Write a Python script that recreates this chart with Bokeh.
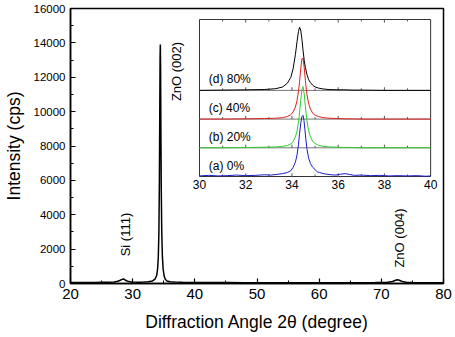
import numpy as np
from bokeh.plotting import figure
from bokeh.models import Range1d, FixedTicker, ColumnDataSource
from bokeh.core.properties import value
from bokeh.embed import file_html
from bokeh.resources import INLINE

FONT = "Liberation Sans"

# ---------------- main XRD pattern ----------------
main_x = [20, 21, 22, 23, 24, 25, 26, 27, 27.6, 28.0, 28.3, 28.5, 28.7, 29.0, 29.4, 29.8,
          30.5, 31.5, 32.5, 33.2, 33.6, 33.85, 34.0, 34.12, 34.22, 34.3, 34.36, 34.41, 34.45,
          34.49, 34.54, 34.6, 34.68, 34.78, 34.9, 35.05, 35.25, 35.5, 36, 37, 38, 40, 42, 45,
          48, 50, 53, 56, 60, 63, 66, 69, 71, 71.8, 72.3, 72.6, 72.9, 73.4, 74, 75, 77, 80]
main_y = [60, 55, 60, 65, 60, 70, 75, 90, 130, 190, 240, 260, 230, 160, 110, 90,
          80, 80, 100, 150, 260, 450, 800, 1500, 3000, 6000, 10000, 13200, 13900,
          12600, 9000, 5500, 3000, 1600, 850, 450, 250, 150, 100, 80, 70, 60, 55, 55,
          50, 50, 50, 45, 45, 45, 50, 55, 70, 120, 190, 220, 190, 110, 70, 55, 50, 45]

x_major = [20, 30, 40, 50, 60, 70, 80]
x_minor = [25, 35, 45, 55, 65, 75]
y_major = [0, 2000, 4000, 6000, 8000, 10000, 12000, 14000, 16000]
y_minor = [1000, 3000, 5000, 7000, 9000, 11000, 13000, 15000]

ann_text = ["Si (111)", "ZnO (002)", "ZnO (004)"]
ann_x = [28.86, 37.07, 72.98]
ann_y = [2850, 12335, 2650]

# ---------------- inset (normalised intensity, offset stacked) ----------------
inset_x = [30, 31, 32, 32.8, 33.3, 33.6, 33.8, 33.95, 34.05, 34.15, 34.22, 34.28, 34.33,
           34.38, 34.43, 34.48, 34.53, 34.58, 34.65, 34.72, 34.8, 34.9, 35.0, 35.15, 35.35,
           35.6, 36.0, 36.3, 36.6, 37, 38, 39, 40]
d80_y = [0.0, 0.01, 0.02, 0.03, 0.06, 0.12, 0.25, 0.45, 0.75, 1.25, 1.7, 2.05, 2.2,
         2.1, 1.8, 1.4, 1.05, 0.8, 0.55, 0.38, 0.27, 0.18, 0.12, 0.08, 0.05,
         0.03, 0.02, 0.02, 0.01, 0.01, 0.0, 0.0, 0.0]
c40_y = [0.0, 0.0, 0.01, 0.02, 0.03, 0.05, 0.09, 0.15, 0.25, 0.42, 0.65, 0.95, 1.3,
         1.75, 2.1, 2.12, 1.8, 1.35, 0.85, 0.55, 0.35, 0.2, 0.14, 0.09, 0.05,
         0.03, 0.02, 0.01, 0.01, 0.0, 0.0, 0.0, 0.0]
b20_y = [0.0, 0.0, 0.01, 0.02, 0.03, 0.05, 0.08, 0.13, 0.22, 0.38, 0.58, 0.88, 1.22,
         1.65, 2.02, 2.13, 1.88, 1.45, 0.92, 0.6, 0.38, 0.22, 0.15, 0.09, 0.05,
         0.03, 0.02, 0.01, 0.01, 0.0, 0.0, 0.0, 0.0]
a0_x = [30, 30.4, 30.8, 31.2, 31.6, 32, 32.4, 32.8, 33.1, 33.4, 33.6, 33.8, 33.95,
        34.05, 34.15, 34.22, 34.28, 34.33, 34.38, 34.43, 34.48, 34.52, 34.56, 34.6,
        34.65, 34.72, 34.8, 34.9, 35.0, 35.1, 35.2, 35.35, 35.5, 35.7, 35.9, 36.1,
        36.3, 36.5, 36.7, 37.0, 37.4, 37.8, 38.2, 38.6, 39.0, 39.4, 39.8, 40]
a0_y = [0.02, 0.04, 0.02, 0.03, 0.05, 0.03, 0.04, 0.06, 0.05, 0.08, 0.1, 0.14, 0.2,
        0.32, 0.5, 0.75, 1.1, 1.5, 1.85, 2.08, 2.13, 1.95, 1.65, 1.3,
        0.95, 0.65, 0.45, 0.32, 0.24, 0.16, 0.14, 0.1, 0.08, 0.06, 0.05, 0.08,
        0.1, 0.07, 0.04, 0.05, 0.03, 0.04, 0.02, 0.03, 0.02, 0.03, 0.01, 0.02]

series_labels = ["(a) 0%", "(b) 20%", "(c) 40%", "(d) 80%"]
series_offsets = [0, 1, 2, 3]
series_colors = ["#1c1cc8", "#2ecc2e", "#e02020", "#000000"]

inset_ticks = [30, 32, 34, 36, 38, 40]
inset_minor = [31, 33, 35, 37, 39]
inset_xr = (30, 40)
inset_yr = (0, 5.47)

# ---------------- figure ----------------
p = figure(width=455, height=337, output_backend="svg", toolbar_location=None,
           x_range=Range1d(20, 80), y_range=Range1d(0, 16000),
           min_border_left=66, min_border_right=12, min_border_top=8, min_border_bottom=54)
p.grid.visible = False
p.outline_line_color = "black"
p.outline_line_width = 1.5
p.background_fill_color = "white"
p.border_fill_color = "white"

for ax in (p.xaxis[0], p.yaxis[0]):
    ax.major_tick_in = 5
    ax.major_tick_out = 0
    ax.minor_tick_in = 3
    ax.minor_tick_out = 0
    ax.axis_line_width = 1.5
    ax.major_tick_line_width = 1.2
    ax.major_label_text_font = FONT
    ax.axis_label_text_font = FONT
    ax.axis_label_text_font_style = "normal"
    ax.axis_label_text_font_size = "17.5px"
    ax.major_label_text_color = "black"
    ax.axis_label_text_color = "black"

p.xaxis.ticker = FixedTicker(ticks=x_major, minor_ticks=x_minor)
p.yaxis.ticker = FixedTicker(ticks=y_major, minor_ticks=y_minor)
p.xaxis.major_label_text_font_size = "15px"
p.yaxis.major_label_text_font_size = "11.5px"
p.xaxis.major_label_standoff = 5
p.yaxis.major_label_standoff = 5
p.xaxis.axis_label = "Diffraction Angle 2\u03b8 (degree)"
p.yaxis.axis_label = "Intensity (cps)"
p.xaxis.axis_label_standoff = 10
p.yaxis.axis_label_standoff = 7

p.line(main_x, main_y, line_color="black", line_width=1.5)

ann = ColumnDataSource(dict(x=ann_x, y=ann_y, t=ann_text))
p.text(x="x", y="y", text="t", source=ann, angle=np.pi / 2,
       text_align="center", text_baseline="middle",
       text_font=value(FONT), text_font_size="13px", text_color="black")

# ---------------- inset via sub-coordinates ----------------
sub = p.subplot(x_source=Range1d(*inset_xr), y_source=Range1d(*inset_yr),
                x_target=Range1d(40.75, 77.93), y_target=Range1d(6225, 15360))

sub.quad(left=[inset_xr[0]], right=[inset_xr[1]], bottom=[inset_yr[0]], top=[inset_yr[1]],
         fill_color="white", line_color="#333333", line_width=1)

# separators between stacked traces
sep_y = series_offsets[1:]
sub.segment(x0=[inset_xr[0]] * len(sep_y), x1=[inset_xr[1]] * len(sep_y),
            y0=sep_y, y1=sep_y, line_color="#777777", line_width=1)

# ticks on every panel border
levels = series_offsets + [inset_yr[1]]
tx0, ty0, ty1 = [], [], []
for lv in levels:
    for t in inset_ticks[1:-1] + inset_minor:
        ln = 0.11 if t in inset_ticks else 0.07
        if lv < inset_yr[1]:
            tx0.append(t); ty0.append(lv); ty1.append(lv + ln)
        if lv > inset_yr[0] and lv == inset_yr[1]:
            tx0.append(t); ty0.append(lv); ty1.append(lv - ln)
sub.segment(x0=tx0, x1=tx0, y0=ty0, y1=ty1, line_color="#555555", line_width=1)

traces = [(a0_x, a0_y), (inset_x, b20_y), (inset_x, c40_y), (inset_x, d80_y)]
for (xs, ys), off, col in zip(traces, series_offsets, series_colors):
    sub.line(xs, [v + off for v in ys], line_color=col, line_width=1)

lab = ColumnDataSource(dict(x=[30.4] * 4, y=[o + 0.38 for o in series_offsets], t=series_labels))
sub.text(x="x", y="y", text="t", source=lab, text_align="left", text_baseline="middle",
         text_font=value(FONT), text_font_size="12px", text_color="black")

tl = ColumnDataSource(dict(x=inset_ticks, y=[inset_yr[0]] * len(inset_ticks),
                           t=[str(v) for v in inset_ticks]))
sub.text(x="x", y="y", text="t", source=tl, text_align="center", text_baseline="top",
         y_offset=3, text_font=value(FONT), text_font_size="12px", text_color="black")

open("out.html", "w").write(file_html(p, INLINE))
